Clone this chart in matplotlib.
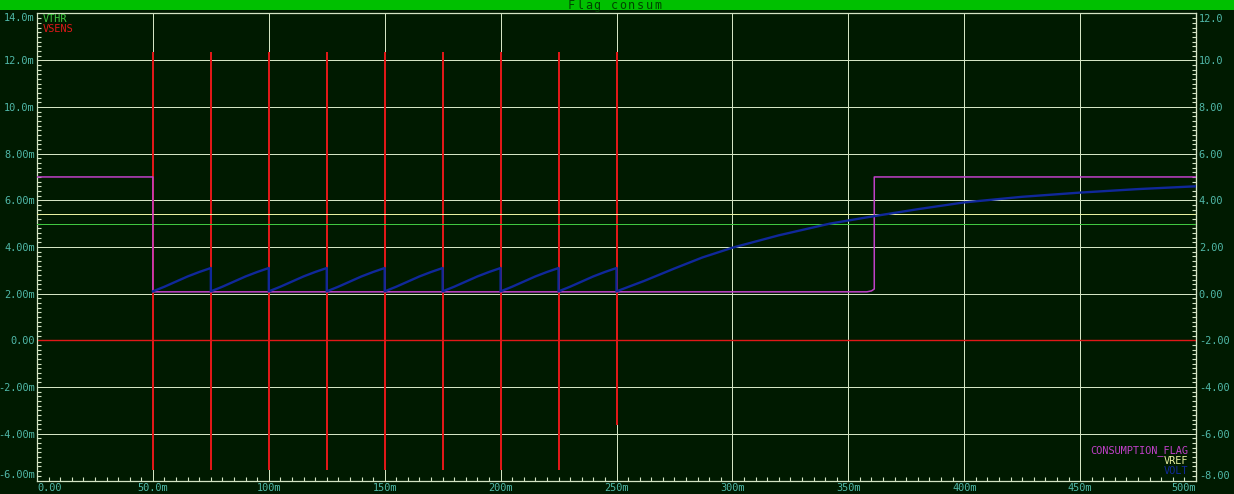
import numpy as np
import matplotlib
matplotlib.use("Agg")
import matplotlib.pyplot as plt
from matplotlib.ticker import MultipleLocator

# 시뮬레이터 화면 재현: Flag consum

# 색상
bg = '#001a00'
grid_c = '#d4e4c4'
tick_c = '#50b8a8'

# 축 눈금 라벨
x_ticks = [0, 50, 100, 150, 200, 250, 300, 350, 400, 450, 500]
x_labels = ['0.00', '50.0m', '100m', '150m', '200m', '250m', '300m', '350m', '400m', '450m', '500m']
y_ticks = [-6, -4, -2, 0, 2, 4, 6, 8, 10, 12, 14]
y_labels = ['-6.00m', '-4.00m', '-2.00m', '0.00', '2.00m', '4.00m', '6.00m', '8.00m', '10.0m', '12.0m', '14.0m']
y2_ticks = [-8, -6, -4, -2, 0, 2, 4, 6, 8, 10, 12]
y2_labels = ['-8.00', '-6.00', '-4.00', '-2.00', '0.00', '2.00', '4.00', '6.00', '8.00', '10.0', '12.0']

# CONSUMPTION_FLAG (왼쪽 축 기준 값)
flag_t = [0, 50, 50, 358, 360, 361.2, 361.2, 500]
flag_v = [7.0, 7.0, 2.08, 2.08, 2.12, 2.2, 7.0, 7.0]

# VREF, VTHR 수평선
vref = 5.40
vthr = 5.00

# VSENS: 0 기준선 + 펄스
vsens_base = 0.0
spike_t = [50, 75, 100, 125, 150, 175, 200, 225, 250]
spike_top = [12.3, 12.3, 12.3, 12.3, 12.3, 12.3, 12.3, 12.3, 12.3]
spike_bot = [-5.5, -5.5, -5.5, -5.5, -5.5, -5.5, -5.5, -5.5, -3.6]

# VOLT: 톱니파 구간 (시작 시간, 한 주기 모양)
saw_start = [50, 75, 100, 125, 150, 175, 200, 225]
saw_dt = [0, 5, 10, 15, 20, 25]
saw_v = [2.10, 2.30, 2.52, 2.74, 2.93, 3.10]
# 250ms 이후 충전 곡선
tail_t = [250, 262, 275, 287, 300, 320, 342, 361, 380, 400, 425, 450, 475, 500]
tail_v = [2.10, 2.55, 3.08, 3.55, 3.97, 4.50, 5.00, 5.32, 5.62, 5.91, 6.15, 6.33, 6.48, 6.60]

volt_t, volt_v = [], []
for s in saw_start:
    for dt, v in zip(saw_dt, saw_v):
        volt_t.append(s + dt)
        volt_v.append(v)
volt_t += tail_t
volt_v += tail_v

W, H = 1234, 494
fig = plt.figure(figsize=(W / 100, H / 100), dpi=100, facecolor=bg)

# 상단 제목 바
fig.patches.append(plt.Rectangle((0, 1 - 10 / H), 1, 10 / H, transform=fig.transFigure,
                                 facecolor='#00c000', edgecolor='none'))
title = 'Flag consum'
for i, ch in enumerate(title):
    fig.text((571 + i * 8.7) / W, 1 - 5.5 / H, ch, color='#004400', fontsize=8.5,
             family='DejaVu Sans Mono', ha='center', va='center')

ax = fig.add_axes([37 / W, 13.5 / H, 1159 / W, 467 / H])
ax.set_facecolor(bg)
ax.set_xlim(0, 500)
ax.set_ylim(-6, 14)

# 격자 (1픽셀 선)
LW = 0.72
for x in x_ticks:
    ax.axvline(x, color=grid_c, lw=LW, zorder=1, snap=True)
for y in y_ticks:
    ax.axhline(y, color=grid_c, lw=LW, zorder=1, snap=True)

# 신호
red = '#e01818'
ax.axhline(vsens_base, color=red, lw=1.0, zorder=2, snap=True)
for t, lo, hi in zip(spike_t, spike_bot, spike_top):
    ax.plot([t, t], [lo, hi], color=red, lw=1.44, zorder=2, snap=True)
ax.axhline(vref, color='#e8f0a0', lw=LW, zorder=3, snap=True)
ax.axhline(vthr, color='#40c840', lw=LW, zorder=3, snap=True)
ax.plot(flag_t, flag_v, color='#c040c8', lw=1.1, zorder=4)
ax.plot(volt_t, volt_v, color='#10289a', lw=1.7, zorder=5)

# 축 스타일
for sp in ax.spines.values():
    sp.set_color(grid_c)
    sp.set_linewidth(0.9)

ax.set_xticks(x_ticks)
ax.set_xticklabels(x_labels)
ax.set_yticks(y_ticks)
ax.set_yticklabels(y_labels)
ax.xaxis.set_minor_locator(MultipleLocator(5))
ax.yaxis.set_minor_locator(MultipleLocator(0.2))
ax.tick_params(which='both', direction='in', color=grid_c, labelcolor=tick_c,
               labelsize=7.4, width=0.8)
ax.tick_params(which='major', length=0)
ax.tick_params(which='minor', length=3)
ax.tick_params(axis='x', pad=2)
ax.tick_params(axis='y', pad=1.5)
for lab in ax.get_xticklabels() + ax.get_yticklabels():
    lab.set_family('DejaVu Sans Mono')
xl = ax.get_xticklabels()
xl[0].set_ha('left')
xl[-1].set_ha('right')
yl = ax.get_yticklabels()
yl[0].set_va('bottom')
yl[-1].set_va('top')

sec = ax.secondary_yaxis('right', functions=(lambda v: v - 2, lambda v: v + 2))
sec.set_yticks(y2_ticks)
sec.set_yticklabels(y2_labels)
sec.yaxis.set_minor_locator(MultipleLocator(0.2))
sec.spines['right'].set_color(grid_c)
sec.tick_params(which='both', direction='in', color=grid_c, labelcolor=tick_c,
                labelsize=7.4, width=0.8, pad=2)
sec.tick_params(which='major', length=0)
sec.tick_params(which='minor', length=3)
for lab in sec.get_yticklabels():
    lab.set_family('DejaVu Sans Mono')
y2l = sec.get_yticklabels()
y2l[0].set_va('bottom')
y2l[-1].set_va('top')

# 범례 텍스트
mono = dict(family='DejaVu Sans Mono', fontsize=7.4, transform=fig.transFigure)
fig.text(43 / W, 1 - 18.5 / H, 'VTHR', color='#40c840', ha='left', va='center', **mono)
fig.text(43 / W, 1 - 29 / H, 'VSENS', color=red, ha='left', va='center', **mono)
fig.text(1188 / W, 1 - 451 / H, 'CONSUMPTION_FLAG', color='#c040c8', ha='right', va='center', **mono)
fig.text(1188 / W, 1 - 461 / H, 'VREF', color='#e8f0a0', ha='right', va='center', **mono)
fig.text(1188 / W, 1 - 471 / H, 'VOLT', color='#10289a', ha='right', va='center', **mono)

fig.savefig('out.png', dpi=100, facecolor=bg)
